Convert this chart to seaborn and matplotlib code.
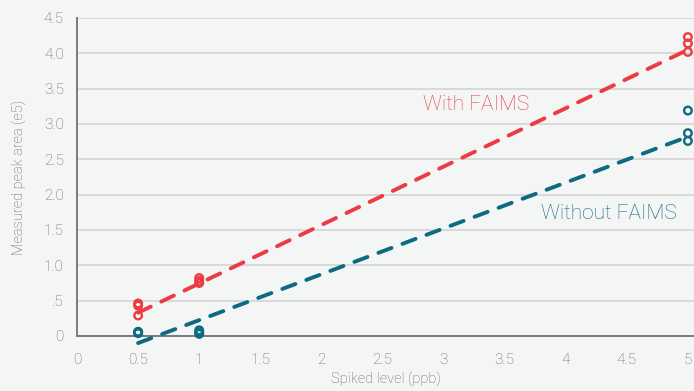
import matplotlib
matplotlib.use("Agg")
import matplotlib.pyplot as plt
import seaborn as sns
import pandas as pd

# ---- data ----
spike_levels = [0.5, 0.5, 0.5, 1, 1, 1, 5, 5, 5]
with_faims = [0.46, 0.43, 0.29, 0.82, 0.78, 0.75, 4.23, 4.14, 4.02]
without_faims = [0.06, 0.05, 0.04, 0.08, 0.05, 0.03, 3.19, 2.87, 2.76]
fit_x = [0.5, 5]
with_fit = [0.33, 4.05]
without_fit = [-0.10, 2.82]
x_ticks = [0, 0.5, 1, 1.5, 2, 2.5, 3, 3.5, 4, 4.5, 5]
x_tick_labels = ["0", "0.5", "1", "1.5", "2", "2.5", "3", "3.5", "4", "4.5", "5"]
y_ticks = [0, 0.5, 1.0, 1.5, 2.0, 2.5, 3.0, 3.5, 4.0, 4.5]
y_tick_labels = ["0", ".5", "1.0", "1.5", "2.0", "2.5", "3.0", "3.5", "4.0", "4.5"]

RED = "#ee3a43"
TEAL = "#0d6a80"
BG = "#f4f5f5"
GRAY = "#666666"

sns.set_theme(style="white")
plt.rcParams["font.family"] = ["Roboto", "DejaVu Sans"]
FW = "light"

fig = plt.figure(figsize=(6.94, 3.91), dpi=100, facecolor=BG)
ax = fig.add_axes([0.111, 0.1407, 0.889, 0.8133])
ax.set_facecolor(BG)

pts = pd.DataFrame({"x": spike_levels, "with": with_faims, "without": without_faims})
fits = pd.DataFrame({"x": fit_x, "with": with_fit, "without": without_fit})

for col, color in (("with", RED), ("without", TEAL)):
    sns.lineplot(data=fits, x="x", y=col, ax=ax, color=color, linewidth=2.8,
                 dashes=False, clip_on=False, zorder=3)
    ln = ax.lines[-1]
    ln.set_dashes((3.6, 3.0))
    ln.set_dash_capstyle("round")
    sns.scatterplot(data=pts, x="x", y=col, ax=ax, marker="o", s=30,
                    facecolor="none", edgecolor=color, linewidth=1.7,
                    clip_on=False, zorder=4)

ax.set_xlim(0, 5.05)
ax.set_ylim(0, 4.5)
ax.set_xticks(x_ticks)
ax.set_xticklabels(x_tick_labels)
ax.set_yticks(y_ticks)
ax.set_yticklabels(y_tick_labels)
ax.tick_params(axis="both", length=0, labelsize=11, labelcolor=GRAY)
ax.tick_params(axis="x", pad=12)
ax.tick_params(axis="y", pad=9.5)
for lab in ax.get_xticklabels() + ax.get_yticklabels():
    lab.set_fontweight(FW)

ax.yaxis.grid(True, color="#d9d9d9", linewidth=1.4)
ax.xaxis.grid(False)
ax.set_axisbelow(True)

for side in ("top", "right"):
    ax.spines[side].set_visible(False)
for side in ("left", "bottom"):
    ax.spines[side].set_color("#7a7a7a")
    ax.spines[side].set_linewidth(1.4)

ax.set_xlabel("Spiked level (ppb)", fontsize=10.5, color=GRAY, fontweight=FW, labelpad=4)
ax.set_ylabel("Measured peak area (e5)", fontsize=10.5, color=GRAY, fontweight=FW, labelpad=12)

ax.text(3.27, 3.28, "With FAIMS", color=RED, fontsize=15, fontweight=FW,
        ha="center", va="center")
ax.text(4.35, 1.73, "Without FAIMS", color=TEAL, fontsize=15, fontweight=FW,
        ha="center", va="center")

fig.savefig("out.png", dpi=100, facecolor=BG)
